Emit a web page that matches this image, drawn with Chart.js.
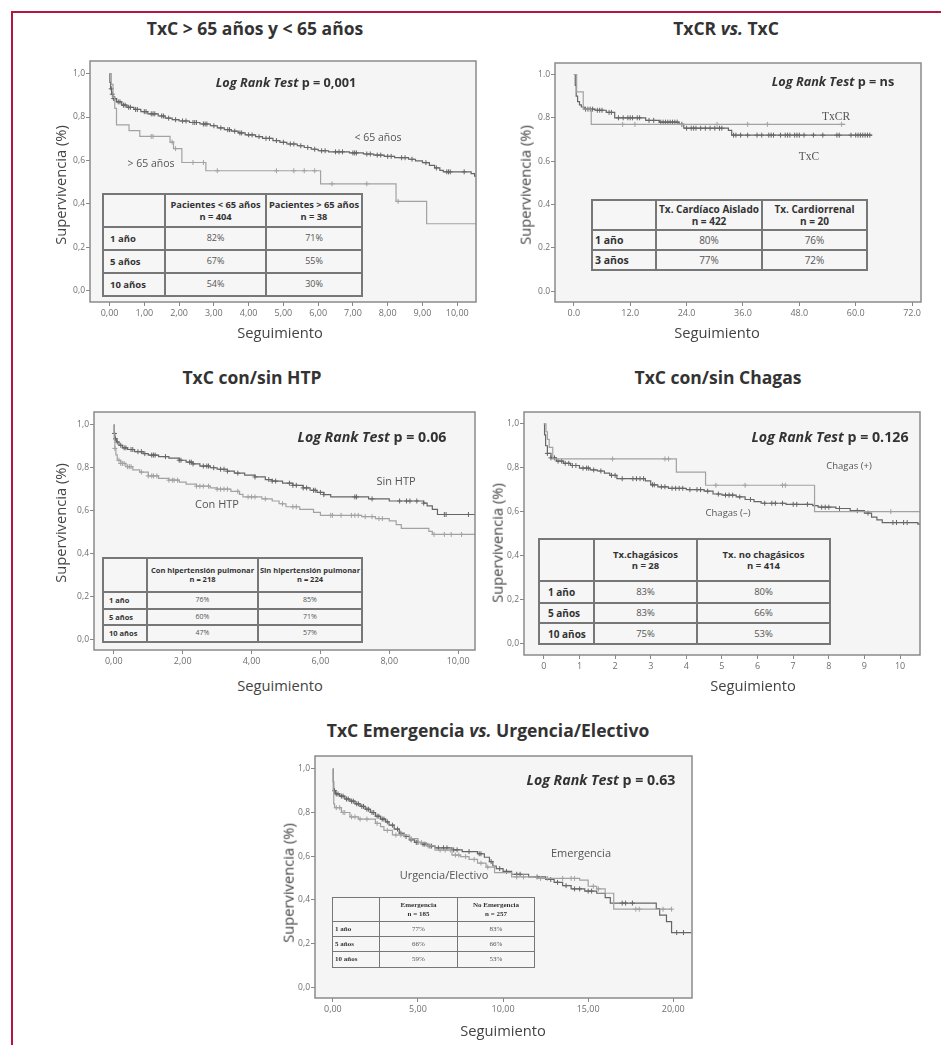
<!DOCTYPE html>
<html><head><meta charset="utf-8">
<script src="https://cdn.jsdelivr.net/npm/chart.js@4.4.1/dist/chart.umd.min.js"></script>
<style>
body{margin:0;background:#fff;width:941px;height:1045px;position:relative;overflow:hidden;font-family:'Open Sans',sans-serif;}
.frame{position:absolute;left:11px;top:11px;width:940px;height:1040px;border-top:2.5px solid #b3163e;border-left:2.5px solid #b3163e;}
canvas{position:absolute;}
.t{position:absolute;transform:translate(-50%,-50%);white-space:nowrap;color:#3c3c3c;line-height:1;}
.ttl{font-weight:700;font-size:17.5px;color:#333;}
.ax{font-size:14.7px;color:#444;}
.yt{transform:translate(-50%,-50%) rotate(-90deg);}
.lr{font-weight:700;color:#333;}
.cl{color:#555;}
.serif{font-family:'Liberation Serif','DejaVu Serif',serif;}
table.tb{position:absolute;border-collapse:collapse;table-layout:fixed;background:#f6f6f6;}
table.tb td{border:2px solid #777;padding:0;text-align:center;color:#555;line-height:1.2;overflow:hidden;white-space:nowrap;}
table.tb td.rl{text-align:left;font-weight:700;color:#333;padding-left:6px;}
table.tb tr.h td{font-weight:700;color:#333;}
</style>
</head><body>
<div class="frame"></div>
<canvas id="c1"></canvas><canvas id="c2"></canvas><canvas id="c3"></canvas><canvas id="c4"></canvas><canvas id="c5"></canvas>
<div id="txt"></div>
<script>
// ---- panel 1: edad ----
const p1YoungT = [0,0.01,0.03,0.06,0.1,0.2,0.35,0.5,0.7,0.9,1.1,1.4,1.6,1.8,2.0,2.3,2.6,2.9,3.1,3.3,3.5,3.7,3.9,4.2,4.4,4.7,4.9,5.1,5.4,5.6,5.8,6.0,6.3,6.9,7.3,7.6,7.9,8.2,8.6,8.8,9.0,9.2,9.35,9.5,9.6,10.4,10.5,10.55];
const p1YoungS = [1,0.96,0.93,0.905,0.885,0.87,0.855,0.845,0.835,0.825,0.815,0.805,0.795,0.788,0.782,0.775,0.768,0.76,0.75,0.742,0.735,0.727,0.718,0.71,0.702,0.692,0.684,0.676,0.668,0.66,0.652,0.645,0.64,0.635,0.63,0.625,0.619,0.613,0.606,0.598,0.59,0.578,0.566,0.555,0.548,0.54,0.528,0.528];
const p1YoungC = [0.05,0.08,0.12,0.15,0.25,0.3,0.4,0.45,0.55,0.6,0.75,0.8,1.0,1.05,1.2,1.25,1.3,1.5,1.55,1.7,1.9,2.1,2.2,2.4,2.45,2.5,2.7,2.75,2.8,3.0,3.2,3.4,3.45,3.6,3.75,3.8,4.0,4.1,4.3,4.5,4.6,4.8,5.0,5.2,5.3,5.5,5.7,5.9,6.1,6.2,6.5,6.6,6.7,7.0,7.05,7.1,7.4,7.5,7.7,7.8,8.0,8.1,8.4,8.5,8.7,9.1,9.4,9.7,9.75,9.8,10.2];
const p1OldT = [0,0.05,0.1,0.15,0.2,0.56,0.87,1.74,1.84,2.08,2.77,6.07,8.24,9.12,10.55];
const p1OldS = [1,0.95,0.89,0.84,0.764,0.738,0.711,0.685,0.655,0.591,0.553,0.493,0.412,0.309,0.309];
const p1OldC = [1.2,1.25,1.8,1.9,2.4,2.7,3.1,4.8,5.3,5.6,5.9,6.4,7.4,8.3];
const p1XTicks = [0,1,2,3,4,5,6,7,8,9,10];
const p1XLabels = ['0,00','1,00','2,00','3,00','4,00','5,00','6,00','7,00','8,00','9,00','10,00'];

// ---- panel 2: TxCR vs TxC ----
const p2TxcT = [0,0.3,0.5,0.8,1.2,1.6,2.2,4.5,6.9,8.7,15.3,18.2,22.4,23.4,32.9,33.6,63.5];
const p2TxcS = [1,0.95,0.9,0.875,0.86,0.85,0.84,0.835,0.825,0.8,0.788,0.78,0.77,0.752,0.742,0.72,0.72];
const p2TxcC = [2.5,3,3.5,4,5,5.5,6,7.5,8,9.5,10.5,11.5,12,12.5,13.5,14,16,17,18.5,19,19.5,20,20.5,21,21.5,22,23,24,25,25.5,26,27,28,29,30,31,31.5,34,34.5,35.5,37,39,40,41.5,42,42.5,44,45,45.5,46,47,47.5,48,49,51,53,56,56.5,59,60,60.5,61,61.5,62,62.5,63];
const p2TxcrT = [0,0.6,2.0,3.7,57.8];
const p2TxcrS = [1,0.92,0.84,0.77,0.77];
const p2TxcrC = [10.4,13,30.5,37,41.2,57];
const p2XTicks = [0,12,24,36,48,60,72];
const p2XLabels = ['0.0','12.0','24.0','36.0','48.0','60.0','72.0'];

// ---- panel 3: HTP ----
const p3SinT = [0,0.01,0.03,0.08,0.15,0.25,0.4,0.6,0.85,1.0,1.3,1.6,1.9,2.1,2.3,2.5,2.8,3.0,3.3,3.5,3.8,4.1,4.4,4.6,4.9,5.2,5.5,5.7,5.9,6.1,6.3,7.4,8.0,9.0,9.1,9.25,9.4,10.5];
const p3SinS = [1,0.96,0.935,0.92,0.905,0.893,0.885,0.875,0.866,0.859,0.852,0.845,0.835,0.826,0.818,0.808,0.8,0.793,0.784,0.775,0.766,0.757,0.745,0.738,0.728,0.718,0.706,0.695,0.685,0.675,0.664,0.655,0.645,0.635,0.622,0.606,0.582,0.582];
const p3SinC = [0.02,0.05,0.1,0.2,0.3,0.35,0.5,0.55,0.7,0.8,0.9,1.1,1.15,1.2,1.5,1.9,1.95,2.2,2.25,2.3,2.6,2.7,2.75,2.9,3.1,3.2,3.3,3.6,4.1,4.5,4.6,4.7,5.1,5.2,5.3,5.5,5.6,5.8,5.85,6.0,6.1,7.0,7.05,7.5,8.3,8.5,8.6,8.8,9.0,9.6,9.65,10.3];
const p3ConT = [0,0.01,0.03,0.06,0.1,0.2,0.35,0.55,0.75,1.0,1.3,1.6,1.9,2.1,2.4,2.8,3.0,3.4,3.65,3.75,4.3,4.6,4.8,5.0,5.4,5.8,6.0,7.2,7.6,8.0,8.2,8.35,9.15,9.25,10.5];
const p3ConS = [1,0.93,0.89,0.86,0.835,0.82,0.805,0.79,0.78,0.762,0.75,0.742,0.733,0.724,0.714,0.706,0.7,0.69,0.676,0.664,0.655,0.645,0.632,0.618,0.606,0.592,0.578,0.572,0.563,0.552,0.535,0.517,0.503,0.489,0.489];
const p3ConC = [0.03,0.15,0.2,0.25,0.3,0.4,0.45,0.5,0.8,1.0,1.1,1.15,1.25,1.6,1.7,1.75,1.85,2.4,2.5,2.6,2.75,3.0,3.1,3.2,3.3,3.6,3.9,4.0,4.1,4.4,4.9,5.2,5.3,6.3,6.35,6.6,6.9,7.0,7.1,7.3,7.5,7.7,7.8,9.3,9.6,9.8,10.1];
const p3XTicks = [0,2,4,6,8,10];
const p3XLabels = ['0,00','2,00','4,00','6,00','8,00','10,00'];

// ---- panel 4: Chagas ----
const p4NegT = [0,0.02,0.05,0.1,0.2,0.35,0.55,0.75,1.0,1.3,1.5,1.7,1.85,2.05,2.85,3.0,3.2,3.5,4.0,4.5,4.75,5.0,5.4,5.65,5.9,6.1,6.8,7.55,7.7,8.2,8.6,9.0,9.2,9.35,9.5,10.5,10.56];
const p4NegS = [1,0.95,0.9,0.865,0.845,0.83,0.82,0.81,0.798,0.79,0.785,0.775,0.765,0.75,0.74,0.722,0.713,0.706,0.7,0.693,0.68,0.675,0.667,0.655,0.645,0.638,0.633,0.627,0.62,0.614,0.604,0.593,0.575,0.562,0.55,0.543,0.543];
const p4NegC = [0.1,0.2,0.3,0.4,0.5,0.6,0.7,0.8,0.9,1.1,1.2,1.25,1.4,1.6,1.9,2.0,2.2,2.5,2.6,2.7,2.8,3.05,3.1,3.3,3.4,3.6,3.7,3.8,3.9,4.1,4.3,4.4,4.6,4.9,5.1,5.2,5.3,5.5,5.8,6.2,6.4,6.5,6.7,7.0,7.1,7.4,7.8,7.9,8.0,8.3,8.8,9.1,9.8,9.9,10.1,10.2];
const p4PosT = [0,0.06,0.1,0.15,0.25,3.72,4.54,7.6,10.56];
const p4PosS = [1,0.964,0.929,0.893,0.84,0.78,0.72,0.6,0.6];
const p4PosC = [1.93,3.4,3.5,4.83,5.65,6.7,6.78,9.74];
const p4XTicks = [0,1,2,3,4,5,6,7,8,9,10];
const p4XLabels = ['0','1','2','3','4','5','6','7','8','9','10'];

// ---- panel 5: emergencia ----
const p5AT = [0,0.02,0.05,0.15,0.4,0.7,1.0,1.3,1.6,1.9,2.2,2.5,2.8,3.1,3.3,3.6,3.9,4.2,4.5,4.8,5.2,5.6,6.0,7.0,7.6,8.5,8.9,9.2,9.4,9.6,10.0,10.5,11.5,12.5,13.0,13.5,14.0,14.8,15.5,16.0,16.3,19.0,19.2,19.6,19.9,21.05];
const p5AS = [1,0.94,0.9,0.885,0.875,0.862,0.852,0.84,0.828,0.815,0.8,0.783,0.77,0.757,0.742,0.724,0.705,0.69,0.675,0.663,0.655,0.646,0.638,0.629,0.621,0.611,0.595,0.575,0.555,0.543,0.53,0.517,0.505,0.493,0.48,0.465,0.45,0.44,0.43,0.41,0.385,0.36,0.33,0.3,0.25,0.25];
const p5AC = [0.1,0.2,0.3,0.5,0.6,0.8,0.9,1.1,1.2,1.4,1.5,1.7,1.8,2.0,2.1,2.3,2.4,2.6,2.7,2.9,3.0,3.2,3.5,3.8,4.0,4.3,4.6,4.9,5.0,5.3,5.4,5.7,5.8,6.2,6.5,6.7,7.1,7.3,8.0,8.6,8.7,9.3,9.8,10.2,10.8,11.0,12.0,12.8,13.2,13.7,14.2,14.5,15.0,15.2,17.0,17.2,17.6,20.2,20.6];
const p5BT = [0,0.02,0.05,0.1,0.5,1.0,1.5,2.5,2.8,3.0,3.5,4.5,5.0,5.5,6.0,7.0,7.5,8.0,8.5,9.0,9.5,10.5,12.0,14.5,15.0,15.5,16.0,16.5,19.9];
const p5BS = [1,0.9,0.84,0.822,0.8,0.78,0.77,0.75,0.735,0.718,0.697,0.68,0.662,0.647,0.628,0.605,0.598,0.585,0.568,0.55,0.525,0.505,0.498,0.49,0.462,0.45,0.43,0.357,0.357];
const p5BC = [0.2,0.4,0.6,0.7,1.1,1.3,1.6,2.0,2.6,3.2,3.7,4.0,4.2,4.6,5.2,5.6,6.3,6.6,6.9,7.2,7.4,7.8,8.3,8.7,9.1,10.8,11.2,12.2,12.6,13.5,14.0,14.2,15.3,15.6,17.8,18.0,19.4,19.9];
const p5XTicks = [0,5,10,15,20];
const p5XLabels = ['0,00','5,00','10,00','15,00','20,00'];

// eje Y comun
const yTicks = [0,0.2,0.4,0.6,0.8,1.0];
const yLabelsComma = ['0,0','0,2','0,4','0,6','0,8','1,0'];
const yLabelsDot = ['0.0','0.2','0.4','0.6','0.8','1.0'];

// tablas
const t1Heads = ['Pacientes < 65 años\nn = 404','Pacientes > 65 años\nn = 38'];
const t1Rows = ['1 año','5 años','10 años'];
const t1Cells = [['82%','71%'],['67%','55%'],['54%','30%']];
const t2Heads = ['Tx. Cardíaco Aislado\nn = 422','Tx. Cardiorrenal\nn = 20'];
const t2Rows = ['1 año','3 años'];
const t2Cells = [['80%','76%'],['77%','72%']];
const t3Heads = ['Con hipertensión pulmonar\nn = 218','Sin hipertensión pulmonar\nn = 224'];
const t3Rows = ['1 año','5 años','10 años'];
const t3Cells = [['76%','85%'],['60%','71%'],['47%','57%']];
const t4Heads = ['Tx.chagásicos\nn = 28','Tx. no chagásicos\nn = 414'];
const t4Rows = ['1 año','5 años','10 años'];
const t4Cells = [['83%','80%'],['83%','66%'],['75%','53%']];
const t5Heads = ['Emergencia\nn = 185','No Emergencia\nn = 257'];
const t5Rows = ['1 año','5 años','10 años'];
const t5Cells = [['77%','83%'],['66%','66%'],['59%','53%']];

const DARK = '#666', LIGHT = '#a2a2a2';
const FONT = "'Open Sans', 'Noto Sans', sans-serif";
const YW = 36, XH = 22;

function survAt(T, S, t) {
  let v = S[0];
  for (let i = 0; i < T.length; i++) if (T[i] <= t) v = S[i];
  return v;
}

function curve(T, S, C, color) {
  return [
    { data: T.map((t, i) => ({ x: t, y: S[i] })), stepped: 'before', borderColor: color,
      borderWidth: 1.2, pointRadius: 0, fill: false },
    { data: C.map(t => ({ x: t, y: survAt(T, S, t) })), showLine: false, pointStyle: 'cross',
      pointRadius: 2.5, pointBorderWidth: 1, borderColor: color, pointBorderColor: color }
  ];
}

const boxPlugin = {
  id: 'box',
  beforeDraw(chart) {
    const a = chart.chartArea, ctx = chart.ctx;
    ctx.save(); ctx.fillStyle = '#f5f5f5';
    ctx.fillRect(a.left, a.top, a.right - a.left, a.bottom - a.top); ctx.restore();
  },
  afterDraw(chart) {
    const a = chart.chartArea, ctx = chart.ctx;
    ctx.save(); ctx.strokeStyle = '#8a8a8a'; ctx.lineWidth = 1.5;
    ctx.strokeRect(a.left, a.top, a.right - a.left, a.bottom - a.top); ctx.restore();
  }
};

function makeChart(id, box, xr, yr, xTicks, xLabels, yLabels, datasets) {
  const cv = document.getElementById(id);
  const w = box[2] - box[0] + YW + 2, h = box[3] - box[1] + XH + 2;
  cv.width = w; cv.height = h;
  cv.style.left = (box[0] - YW) + 'px'; cv.style.top = (box[1] - 2) + 'px';
  cv.style.width = w + 'px'; cv.style.height = h + 'px';
  const noPad = s => { s.paddingLeft = 0; s.paddingRight = 0; s.paddingTop = 0; s.paddingBottom = 0; };
  return new Chart(cv, {
    type: 'line',
    data: { datasets },
    plugins: [boxPlugin],
    options: {
      responsive: false, animation: false, devicePixelRatio: 1,
      layout: { padding: { top: 2, right: 2, left: 0, bottom: 0 } },
      plugins: { legend: { display: false }, tooltip: { enabled: false } },
      scales: {
        x: {
          type: 'linear', min: xr[0], max: xr[1],
          afterBuildTicks: s => { s.ticks = xTicks.map(v => ({ value: v })); },
          afterFit: s => { s.height = XH; noPad(s); },
          ticks: { callback: (v, i) => xLabels[i], font: { family: FONT, size: 9 }, color: '#6f6f6f',
                   padding: 2, maxRotation: 0, autoSkip: false },
          grid: { drawOnChartArea: false, tickLength: 4, color: '#888' },
          border: { display: false }
        },
        y: {
          min: yr[0], max: yr[1],
          afterBuildTicks: s => { s.ticks = yTicks.map(v => ({ value: v })); },
          afterFit: s => { s.width = YW; noPad(s); },
          ticks: { callback: (v, i) => yLabels[i], font: { family: FONT, size: 8.5 }, color: '#6f6f6f',
                   padding: 1, autoSkip: false },
          grid: { drawOnChartArea: false, tickLength: 4, color: '#888' },
          border: { display: false }
        }
      }
    }
  });
}

makeChart('c1', [90, 58, 479, 302], [-0.562, 10.54], [-0.051, 1.058], p1XTicks, p1XLabels, yLabelsComma,
  [...curve(p1OldT, p1OldS, p1OldC, LIGHT), ...curve(p1YoungT, p1YoungS, p1YoungC, DARK)]);
makeChart('c2', [555, 60, 924, 302], [-4.01, 73.9], [-0.05, 1.053], p2XTicks, p2XLabels, yLabelsDot,
  [...curve(p2TxcrT, p2TxcrS, p2TxcrC, LIGHT), ...curve(p2TxcT, p2TxcS, p2TxcC, DARK)]);
makeChart('c3', [94, 409, 478, 650], [-0.576, 10.49], [-0.05, 1.06], p3XTicks, p3XLabels, yLabelsComma,
  [...curve(p3ConT, p3ConS, p3ConC, LIGHT), ...curve(p3SinT, p3SinS, p3SinC, DARK)]);
makeChart('c4', [524, 409, 923, 655], [-0.557, 10.56], [-0.054, 1.054], p4XTicks, p4XLabels, yLabelsComma,
  [...curve(p4PosT, p4PosS, p4PosC, LIGHT), ...curve(p4NegT, p4NegS, p4NegC, DARK)]);
makeChart('c5', [315, 753, 695, 998], [-1.05, 21.1], [-0.05, 1.059], p5XTicks, p5XLabels, yLabelsComma,
  [...curve(p5BT, p5BS, p5BC, LIGHT), ...curve(p5AT, p5AS, p5AC, DARK)]);

// textos
const txt = document.getElementById('txt');
function label(html, x, y, cls, size) {
  const d = document.createElement('div');
  d.className = 't ' + (cls || '');
  d.innerHTML = html;
  d.style.left = x + 'px'; d.style.top = y + 'px';
  if (size) d.style.fontSize = size + 'px';
  txt.appendChild(d);
}
label('TxC &gt; 65 años y &lt; 65 años', 255, 29, 'ttl');
label('TxCR <i>vs.</i> TxC', 726, 29, 'ttl');
label('TxC con/sin HTP', 252, 378, 'ttl');
label('TxC con/sin Chagas', 718, 378, 'ttl');
label('TxC Emergencia <i>vs.</i> Urgencia/Electivo', 488, 731, 'ttl');

[[280, 332], [717, 332], [280, 685], [753, 685], [503, 1030]].forEach(p => label('Seguimiento', p[0], p[1], 'ax'));
[[60, 185], [525, 185], [60, 523], [497, 543], [288, 883]].forEach(p => label('Supervivencia (%)', p[0], p[1], 'ax yt'));

label('<i>Log Rank Test</i> p = 0,001', 286, 82, 'lr', 12.7);
label('<i>Log Rank Test</i> p = ns', 833, 81, 'lr', 12.7);
label('<i>Log Rank Test</i> p = 0.06', 372, 437, 'lr', 14.2);
label('<i>Log Rank Test</i> p = 0.126', 830, 437, 'lr', 14.2);
label('<i>Log Rank Test</i> p = 0.63', 601, 780, 'lr', 14.2);

label('&lt; 65 años', 378, 137, 'cl', 10.5);
label('&gt; 65 años', 151, 163, 'cl', 10.5);
label('TxCR', 836, 117, 'cl serif', 11.5);
label('TxC', 809, 157, 'cl serif', 11.5);
label('Sin HTP', 396, 480, 'cl', 11);
label('Con HTP', 217, 503, 'cl', 11);
label('Chagas (+)', 849, 466, 'cl', 9.5);
label('Chagas (–)', 728, 513, 'cl', 9.5);
label('Emergencia', 581, 852, 'cl', 11);
label('Urgencia/Electivo', 444, 874, 'cl', 11);

function makeTable(left, top, cols, rows, heads, rowNames, cells, hf, lf, cf, extra) {
  const t = document.createElement('table');
  t.className = 'tb' + (extra && extra.serif ? ' serif' : '');
  t.style.left = left + 'px'; t.style.top = top + 'px';
  t.style.width = cols.reduce((a, b) => a + b, 0) + 'px';
  const cg = document.createElement('colgroup');
  cols.forEach(w => { const c = document.createElement('col'); c.style.width = w + 'px'; cg.appendChild(c); });
  t.appendChild(cg);
  const bw = extra && extra.bw ? extra.bw : 2;
  const hr = document.createElement('tr'); hr.className = 'h'; hr.style.height = rows[0] + 'px';
  ['', ...heads].forEach(h => {
    const td = document.createElement('td'); td.innerText = h; td.style.fontSize = hf + 'px';
    td.style.borderWidth = bw + 'px'; hr.appendChild(td);
  });
  t.appendChild(hr);
  rowNames.forEach((r, i) => {
    const tr = document.createElement('tr'); tr.style.height = rows[i + 1] + 'px';
    const th = document.createElement('td'); th.className = 'rl'; th.textContent = r;
    th.style.fontSize = lf + 'px'; th.style.borderWidth = bw + 'px';
    if (extra && extra.pl !== undefined) th.style.paddingLeft = extra.pl + 'px';
    tr.appendChild(th);
    cells[i].forEach(c => {
      const td = document.createElement('td'); td.textContent = c; td.style.fontSize = cf + 'px';
      td.style.borderWidth = bw + 'px'; tr.appendChild(td);
    });
    t.appendChild(tr);
  });
  txt.appendChild(t);
}
makeTable(102, 193, [62, 101, 96], [33, 23, 23, 23], t1Heads, t1Rows, t1Cells, 9.3, 9.5, 9);
makeTable(591, 199, [64, 106, 105], [30, 20, 20], t2Heads, t2Rows, t2Cells, 10, 10.5, 10, { pl: 2 });
makeTable(102, 557, [44, 111, 104], [34, 17, 16, 17], t3Heads, t3Rows, t3Cells, 7.5, 7.5, 7, { pl: 5 });
makeTable(538, 538, [55, 103, 133], [42, 22, 20, 21], t4Heads, t4Rows, t4Cells, 9.5, 10, 9.5, { pl: 8 });
makeTable(332, 897, [47, 78, 77], [24, 15, 15, 16], t5Heads, t5Rows, t5Cells, 7, 7, 7, { serif: true, bw: 1.5, pl: 2 });
</script>
</body></html>
